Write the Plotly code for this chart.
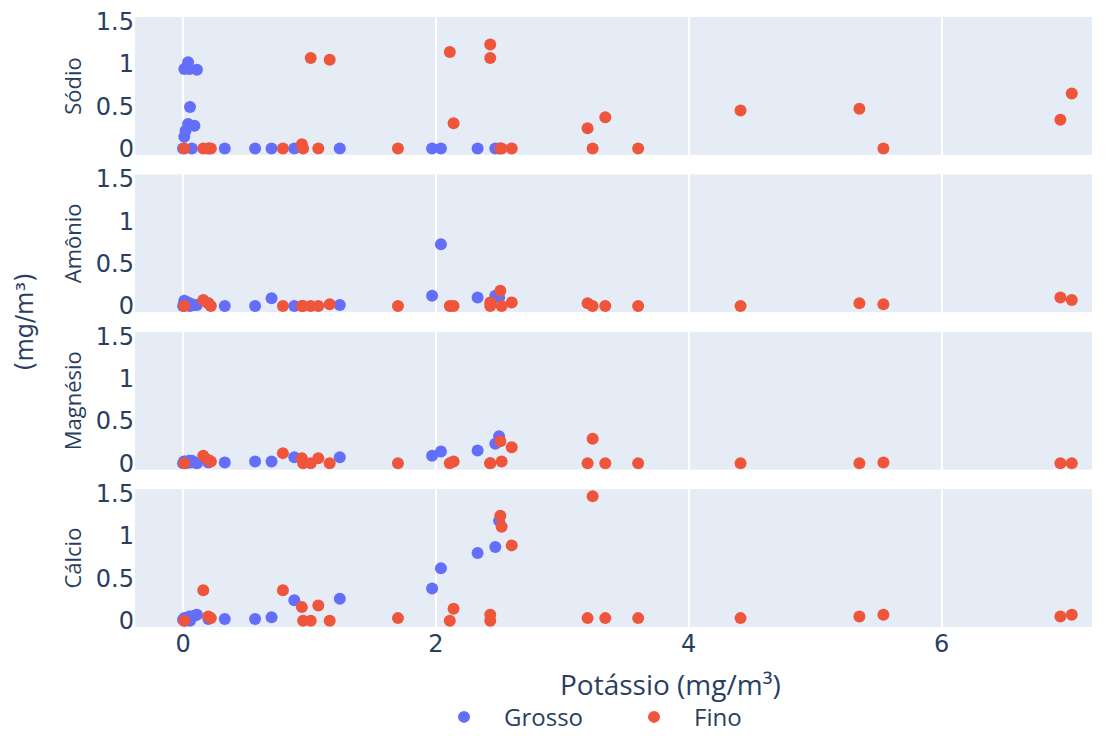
import plotly.graph_objects as go
from plotly.subplots import make_subplots

# ---- data ----
rows_labels = ["Sódio", "Amônio", "Magnésio", "Cálcio"]
x_ticks = [0, 2, 4, 6]
y_ticks = [0, 0.5, 1, 1.5]
y_ticktext = ["0", "0.5", "1", "1.5"]

# Grosso (coarse)
potassio_grosso = [0.01, 0.04, 0.05, 0.11, 0.055, 0.04, 0.09, 0.02, 0.01, 0.0, 0.07,
                   0.20, 0.33, 0.57, 0.70, 0.88, 1.24, 1.97, 2.04, 2.33, 2.47, 2.50]
sodio_grosso = [0.94, 1.02, 0.94, 0.93, 0.49, 0.29, 0.27, 0.21, 0.14, 0.0, 0.0,
                0.0, 0.0, 0.0, 0.0, 0.0, 0.0, 0.0, 0.0, 0.0, 0.0, 0.0]
amonio_grosso = [0.06, 0.03, 0.02, 0.01, 0.0, 0.04, 0.01, 0.02, 0.03, 0.0, 0.02,
                 0.03, 0.0, 0.0, 0.09, 0.0, 0.01, 0.12, 0.73, 0.10, 0.12, 0.10]
magnesio_grosso = [0.02, 0.01, 0.03, 0.0, 0.01, 0.02, 0.01, 0.0, 0.02, 0.0, 0.03,
                   0.01, 0.01, 0.02, 0.02, 0.07, 0.07, 0.09, 0.14, 0.15, 0.23, 0.32]
calcio_grosso = [0.03, 0.02, 0.05, 0.07, 0.0, 0.01, 0.06, 0.02, 0.0, 0.01, 0.04,
                 0.02, 0.02, 0.02, 0.04, 0.24, 0.26, 0.38, 0.62, 0.80, 0.87, 1.18]

# Fino (fine)
potassio_fino = [0.01, 0.16, 0.20, 0.22, 0.79, 0.94, 0.95, 1.01, 1.07, 1.16, 1.70, 2.11, 2.14,
                 2.43, 2.43, 2.51, 2.52, 2.60, 3.20, 3.24, 3.34, 3.60, 4.41, 5.35, 5.54, 6.94, 7.03]
sodio_fino = [0, 0, 0, 0, 0, 0.05, 0, 1.07, 0, 1.05, 0, 1.14, 0.30,
              1.23, 1.07, 0, 0, 0, 0.24, 0, 0.37, 0, 0.45, 0.47, 0, 0.34, 0.65]
amonio_fino = [0, 0.07, 0.03, 0, 0, 0, 0, 0, 0, 0.02, 0, 0, 0,
               0.04, 0, 0.18, 0, 0.04, 0.03, 0, 0, 0, 0, 0.03, 0.02, 0.10, 0.07]
magnesio_fino = [0, 0.09, 0.04, 0.02, 0.12, 0.06, 0, 0, 0.06, 0, 0, 0, 0.02,
                 0, 0, 0.26, 0.02, 0.19, 0, 0.29, 0, 0, 0, 0, 0.01, 0, 0]
calcio_fino = [0, 0.36, 0.05, 0.03, 0.36, 0.16, 0, 0, 0.18, 0, 0.03, 0, 0.14,
               0.07, 0, 1.24, 1.11, 0.89, 0.03, 1.47, 0.03, 0.03, 0.03, 0.05, 0.07, 0.05, 0.07]

grosso_rows = [sodio_grosso, amonio_grosso, magnesio_grosso, calcio_grosso]
fino_rows = [sodio_fino, amonio_fino, magnesio_fino, calcio_fino]

BLUE = "#636efa"
RED = "#EF553B"
FONT_COLOR = "#2a3f5f"
TICK_FONT = dict(family="DejaVu Sans, Verdana, sans-serif", size=24, color=FONT_COLOR)

fig = make_subplots(rows=4, cols=1, shared_xaxes=True, vertical_spacing=0.032)

for i in range(4):
    fig.add_trace(go.Scatter(x=potassio_grosso, y=grosso_rows[i], mode="markers",
                             name="Grosso", legendgroup="Grosso", showlegend=(i == 0),
                             marker=dict(color=BLUE, size=12)), row=i + 1, col=1)
    fig.add_trace(go.Scatter(x=potassio_fino, y=fino_rows[i], mode="markers",
                             name="Fino", legendgroup="Fino", showlegend=(i == 0),
                             marker=dict(color=RED, size=12)), row=i + 1, col=1)
    fig.update_yaxes(title_text=rows_labels[i], title_font=dict(size=22),
                     range=[-0.075, 1.555], tickvals=y_ticks, ticktext=y_ticktext,
                     showgrid=False, zeroline=False, tickfont=TICK_FONT,
                     title_standoff=8, automargin=False, row=i + 1, col=1)
    fig.update_xaxes(range=[-0.38, 7.19], tickvals=x_ticks, showgrid=True,
                     gridcolor="white", gridwidth=2, zeroline=False,
                     tickfont=TICK_FONT, automargin=False, row=i + 1, col=1)

# x-axis title (placed as in the reference, slightly right of centre)
fig.add_annotation(text="Potássio (mg/m³)", xref="paper", yref="paper", x=0.56, y=-0.093,
                   showarrow=False, font=dict(size=28, color=FONT_COLOR),
                   xanchor="center", yanchor="middle")

fig.add_annotation(text="(mg/m³)", xref="paper", yref="paper", x=-0.115, y=0.5,
                   textangle=-90, showarrow=False,
                   font=dict(family="DejaVu Sans, Verdana, sans-serif", size=24, color=FONT_COLOR),
                   xanchor="center", yanchor="middle")

fig.update_layout(
    width=1090, height=728,
    template="plotly",
    plot_bgcolor="#E5ECF6",
    paper_bgcolor="white",
    font=dict(family="Open Sans, verdana, arial, sans-serif", color=FONT_COLOR),
    margin=dict(l=127, r=6, t=9, b=109, autoexpand=False),
    legend=dict(orientation="h", x=0.302, xanchor="left", y=-0.148, yanchor="middle",
                font=dict(size=24), itemwidth=70, entrywidth=105, entrywidthmode="pixels"),
)

fig.write_html("out.html")
